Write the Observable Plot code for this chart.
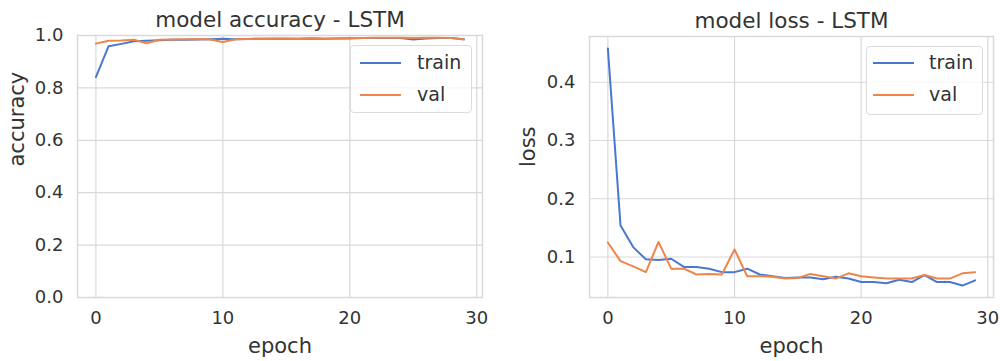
<!DOCTYPE html>
<html>
<head>
<meta charset="utf-8">
<script src="https://cdn.jsdelivr.net/npm/d3@7"></script>
<script src="https://cdn.jsdelivr.net/npm/@observablehq/plot@0.6"></script>
<style>
  html, body { margin: 0; padding: 0; background: #fff; }
  #wrap { position: relative; width: 1000px; height: 361px; overflow: hidden; font-family: "DejaVu Sans", sans-serif; }
  .panel { position: absolute; top: 0; }
  .legend { position: absolute; border: 1px solid #dcdcdc; border-radius: 4px; background: rgba(255,255,255,0.8); box-sizing: border-box; }
  .legend .row { position: absolute; left: 0; right: 0; height: 0; }
  .legend .sw { position: absolute; height: 2px; margin-top: -1px; }
  .legend .lab { position: absolute; font-size: 19px; color: #333; line-height: 20px; margin-top: -11px; }
</style>
</head>
<body>
<div id="wrap"></div>
<script>
const epochs = [0,1,2,3,4,5,6,7,8,9,10,11,12,13,14,15,16,17,18,19,20,21,22,23,24,25,26,27,28,29];
const accTrain = [0.841,0.959,0.968,0.978,0.980,0.982,0.984,0.984,0.985,0.986,0.988,0.986,0.987,0.988,0.988,0.988,0.988,0.989,0.988,0.989,0.989,0.990,0.990,0.990,0.990,0.985,0.989,0.990,0.990,0.986];
const accVal   = [0.969,0.980,0.981,0.984,0.970,0.984,0.985,0.986,0.987,0.985,0.975,0.986,0.987,0.988,0.989,0.989,0.988,0.990,0.988,0.989,0.990,0.990,0.991,0.991,0.991,0.990,0.991,0.991,0.990,0.985];
const lossTrain = [0.458,0.154,0.117,0.096,0.095,0.097,0.083,0.083,0.080,0.074,0.074,0.080,0.070,0.067,0.064,0.065,0.065,0.062,0.066,0.063,0.057,0.057,0.055,0.061,0.057,0.069,0.057,0.057,0.051,0.060];
const lossVal   = [0.125,0.093,0.084,0.074,0.126,0.080,0.080,0.070,0.071,0.070,0.113,0.067,0.067,0.066,0.063,0.064,0.071,0.067,0.063,0.072,0.067,0.065,0.063,0.063,0.063,0.069,0.063,0.063,0.072,0.074];

const accTicks = [0, 0.2, 0.4, 0.6, 0.8, 1.0];
const lossTicks = [0.1, 0.2, 0.3, 0.4];
const epochTicks = [0, 10, 20, 30];
const seriesNames = ["train", "val"];
const colors = ["#4878d0", "#ee854a"];

const GRID = "#d9d9d9";

function panel({title, ylabel, train, val, yDomain, yTicks, marginLeft, marginRight, marginTop, ylabelDx}) {
  const rows = epochs.map((e, i) => ({epoch: e, train: train[i], val: val[i]}));
  return Plot.plot({
    width: 500,
    height: 361,
    marginLeft, marginRight, marginTop,
    marginBottom: 64,
    x: {domain: [-1.45, 30.45]},
    y: {domain: yDomain},
    style: {fontFamily: "DejaVu Sans, sans-serif", color: "#333", background: "white"},
    marks: [
      Plot.gridX({ticks: epochTicks, stroke: GRID, strokeOpacity: 1, strokeWidth: 1.2}),
      Plot.gridY({ticks: yTicks, stroke: GRID, strokeOpacity: 1, strokeWidth: 1.2}),
      Plot.frame({stroke: GRID, strokeWidth: 1.5}),
      Plot.axisX({ticks: epochTicks, tickSize: 0, tickPadding: 14, fontSize: 18, label: null, tickFormat: d3.format("d")}),
      Plot.axisY({ticks: yTicks, tickSize: 0, tickPadding: 14, fontSize: 18, label: null, tickFormat: d3.format(".1f")}),
      Plot.lineY(rows, {x: "epoch", y: "train", stroke: colors[0], strokeWidth: 2}),
      Plot.lineY(rows, {x: "epoch", y: "val", stroke: colors[1], strokeWidth: 2}),
      Plot.text([title], {frameAnchor: "top", lineAnchor: "middle", dy: -15, fontSize: 21.5, fill: "#333"}),
      Plot.text(["epoch"], {frameAnchor: "bottom", lineAnchor: "middle", dy: 49, fontSize: 21, fill: "#333"}),
      Plot.text([ylabel], {frameAnchor: "left", dx: ylabelDx, rotate: -90, fontSize: 21, fill: "#333"})
    ]
  });
}

const wrap = document.getElementById("wrap");

function addPanel(left, svg) {
  const d = document.createElement("div");
  d.className = "panel";
  d.style.left = left + "px";
  d.appendChild(svg);
  wrap.appendChild(d);
}

function addLegend(box, swX0, swX1, labX, rowYs) {
  const lg = document.createElement("div");
  lg.className = "legend";
  lg.style.left = box[0] + "px";
  lg.style.top = box[1] + "px";
  lg.style.width = box[2] + "px";
  lg.style.height = box[3] + "px";
  seriesNames.forEach((name, i) => {
    const r = document.createElement("div");
    r.className = "row";
    r.style.top = rowYs[i] + "px";
    const sw = document.createElement("div");
    sw.className = "sw";
    sw.style.left = swX0 + "px";
    sw.style.width = (swX1 - swX0) + "px";
    sw.style.background = colors[i];
    const lab = document.createElement("div");
    lab.className = "lab";
    lab.style.left = labX + "px";
    lab.textContent = name;
    r.appendChild(sw);
    r.appendChild(lab);
    lg.appendChild(r);
  });
  wrap.appendChild(lg);
}

addPanel(0, panel({
  title: "model accuracy - LSTM", ylabel: "accuracy",
  train: accTrain, val: accVal,
  yDomain: [0, 1], yTicks: accTicks,
  marginLeft: 77, marginRight: 18, marginTop: 35, ylabelDx: -60
}));

addPanel(500, panel({
  title: "model loss - LSTM", ylabel: "loss",
  train: lossTrain, val: lossVal,
  yDomain: [0.0305, 0.4785], yTicks: lossTicks,
  marginLeft: 89, marginRight: 7, marginTop: 36, ylabelDx: -61
}));

addLegend([350, 45, 122, 68], 9, 50, 66, [17, 49]);
addLegend([866, 46, 117, 69], 6, 47, 62, [16, 48]);
</script>
</body>
</html>
